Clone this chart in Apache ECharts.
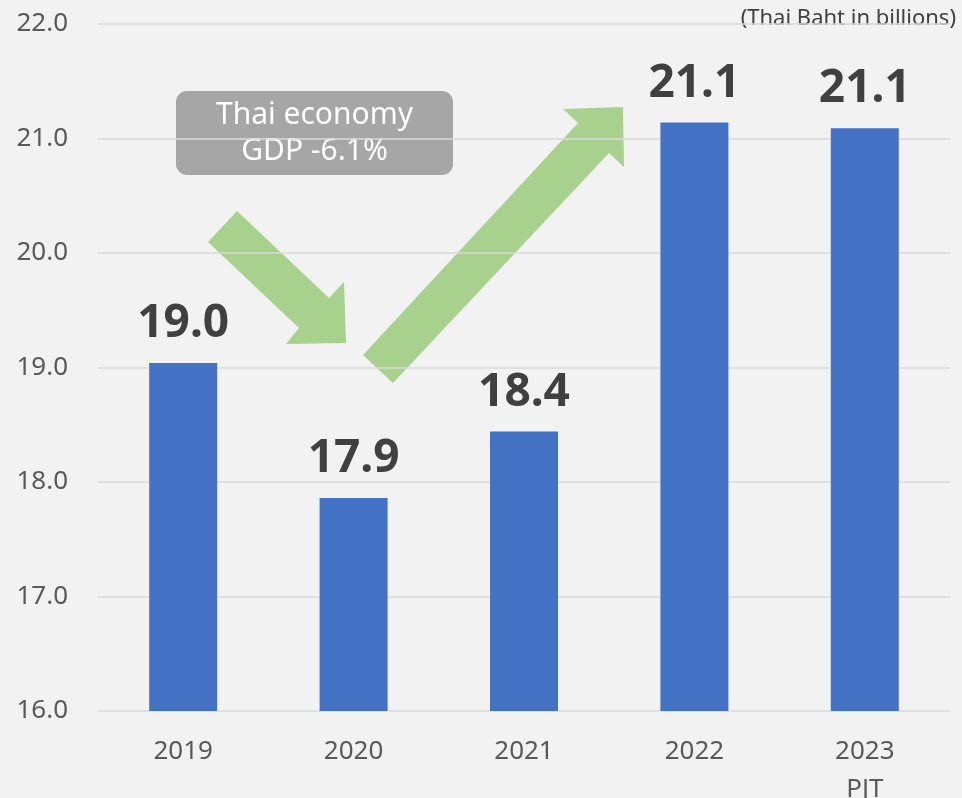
<!DOCTYPE html>
<html>
<head>
<meta charset="utf-8">
<script src="https://cdn.jsdelivr.net/npm/echarts@6/dist/echarts.min.js"></script>
<style>
html,body{margin:0;padding:0;background:#f2f2f2;}
#c{width:962px;height:798px;}
</style>
</head>
<body>
<div id="c"></div>
<script>
const categories = ['2019', '2020', '2021', '2022', '2023\nPJT'];
const values = [19.04, 17.86, 18.44, 21.14, 21.09];
const yMin = 16, yMax = 22, yStep = 1;
const unitText = '(Thai Baht in billions)';
const calloutText = 'Thai economy\nGDP -6.1%';

const chart = echarts.init(document.getElementById('c'), null, {renderer: 'canvas'});
const FONT = 'Noto Sans';
chart.setOption({
  backgroundColor: '#f2f2f2',
  animation: false,
  grid: {left: 98, right: 12, top: 24, bottom: 87, containLabel: false, outerBoundsMode: 'none'},
  xAxis: {
    type: 'category',
    data: categories,
    axisLine: {show: false},
    axisTick: {show: false},
    axisLabel: {color: '#595959', fontSize: 26, fontFamily: FONT, margin: 22, lineHeight: 38}
  },
  yAxis: {
    type: 'value',
    min: yMin, max: yMax, interval: yStep,
    axisLine: {show: false},
    axisTick: {show: false},
    splitLine: {lineStyle: {color: '#d9d9d9', width: 1.5}},
    axisLabel: {color: '#595959', fontSize: 26, fontFamily: FONT, margin: 30,
      formatter: v => v.toFixed(1)}
  },
  series: [{
    type: 'bar',
    data: values,
    barWidth: 68,
    itemStyle: {color: '#4472c4'},
    label: {
      show: true, position: 'top', distance: 16,
      color: '#404040', fontSize: 46, fontWeight: 'bold', fontFamily: FONT,
      formatter: p => p.value.toFixed(1)
    }
  }],
  graphic: [
    {type: 'text', right: 6, top: 8,
      style: {text: unitText, fill: '#404040', font: '22px "Noto Sans"'}},
    {type: 'polygon', shape: {points: [[208,242],[237,211],[329,298],[344,282],[346,343],[286,344],[299,328]]},
      style: {fill: '#a9d18e'}},
    {type: 'polygon', shape: {points: [[363,355],[578,123],[563,109],[623,107],[624,167],[609,153],[393,383]]},
      style: {fill: '#a9d18e'}},
    {type: 'rect', shape: {x: 176, y: 91, width: 277, height: 84, r: 11},
      style: {fill: '#a6a6a6'}},
    {type: 'text', x: 314.5, y: 133,
      style: {text: calloutText, fill: '#ffffff', font: '30px "Noto Sans"', align: 'center', verticalAlign: 'middle', lineHeight: 36}}
  ]
});
</script>
</body>
</html>
